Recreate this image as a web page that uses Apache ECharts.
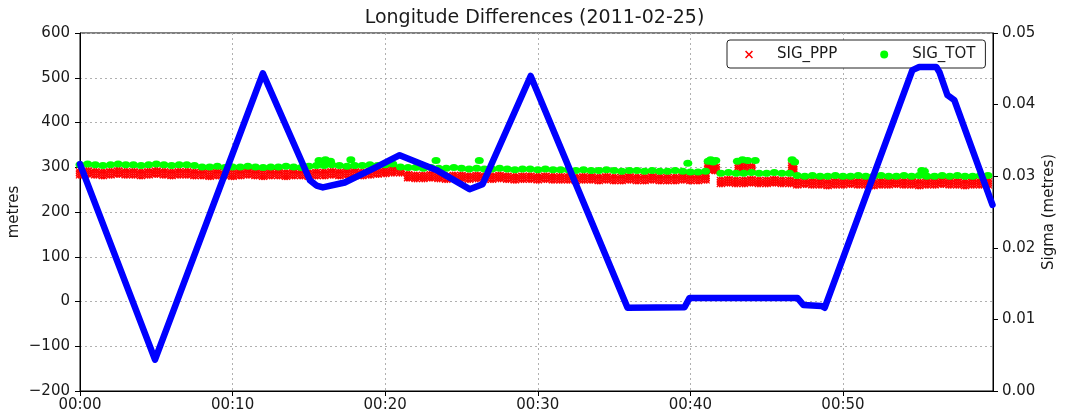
<!DOCTYPE html>
<html>
<head>
<meta charset="utf-8">
<script src="https://cdn.jsdelivr.net/npm/echarts@6/dist/echarts.min.js"></script>
<style>
html,body{margin:0;padding:0;background:#fff;}
#chart{width:1069px;height:416px;}
</style>
</head>
<body>
<div id="chart"></div>
<script>
// ---- DATA ----
const TITLE = 'Longitude Differences (2011-02-25)';
const X_TICK_STEP = 600;       // seconds between labelled ticks (10 min)
const X_MAX = 3590;            // seconds
// Longitude difference (metres) – polyline vertices
const diffTimes  = [0, 295, 719, 904, 930, 955, 1041, 1139, 1257, 1401, 1532, 1583, 1772, 2153, 2377, 2397, 2821, 2845, 2915, 2928, 3273, 3300, 3367, 3379, 3411, 3438, 3588];
const diffValues = [307, -130, 510, 271, 259, 255, 266, 293, 327, 294, 251, 262, 504, -14, -13, 8, 8, -8, -10, -14, 517, 524, 524, 513, 461, 450, 216];

// Sigma samples every 30 s
const SIGMA_STEP = 30;
const sigPPP = [
 0.0304,0.0305,0.0304,0.0303,0.0304,0.0305,0.0304,0.0304,0.0303,0.0304,0.0305,0.0304,0.0303,0.0304,0.0304,0.0303,
 0.0303,0.0302,0.0303,0.0303,0.0302,0.0303,0.0304,0.0303,0.0302,0.0303,0.0303,0.0302,0.0303,0.0303,0.0302,0.0303,
 0.0303,0.0304,0.0303,0.0304,0.0304,0.0303,0.0304,0.0305,0.0306,0.0307,
 0.0307,0.0300,0.0299,0.0299,0.0300,0.0299,0.0298,0.0299,0.0299,0.0298,0.0299,0.0298,0.0298,0.0299,0.0298,0.0297,0.0298,0.0298,0.0297,0.0298,0.0297,0.0297,
 0.0297,0.0296,0.0297,0.0297,0.0296,0.0297,0.0296,0.0296,0.0297,0.0296,0.0296,0.0297,0.0296,0.0296,0.0296,0.0297,0.0296,
 0.0296,0.0297,0.0311,
 0.0292,0.0293,0.0292,0.0292,0.0293,0.0292,0.0292,0.0293,0.0292,0.0292,
 0.0290,0.0291,0.0290,0.0290,0.0289,0.0290,0.0290,0.0291,0.0290,0.0290,0.0289,0.0290,0.0290,0.0291,0.0290,0.0290,0.0289,0.0290,0.0290,0.0291,0.0290,0.0290,0.0289,0.0290,0.0290,0.0290
];
const sigTOT = [
 0.0316,0.0317,0.0316,0.0315,0.0316,0.0317,0.0316,0.0316,0.0315,0.0316,0.0317,0.0316,0.0315,0.0316,0.0316,0.0315,
 0.0313,0.0313,0.0314,0.0312,0.0313,0.0313,0.0314,0.0313,0.0312,0.0313,0.0313,0.0314,0.0313,0.0312,0.0314,0.0315,
 0.0315,0.0316,0.0315,0.0314,0.0315,0.0315,0.0316,0.0315,0.0316,0.0317,
 0.0313,0.0312,0.0312,0.0311,0.0312,0.0311,0.0311,0.0312,0.0311,0.0310,0.0311,0.0310,0.0310,0.0311,0.0310,0.0309,0.0310,0.0310,0.0309,0.0310,0.0309,0.0309,
 0.0309,0.0308,0.0309,0.0308,0.0308,0.0309,0.0308,0.0307,0.0308,0.0308,0.0307,0.0308,0.0307,0.0307,0.0308,0.0307,0.0306,
 0.0306,0.0307,0.0320,
 0.0304,0.0305,0.0304,0.0304,0.0305,0.0304,0.0304,0.0305,0.0304,0.0304,
 0.0301,0.0300,0.0301,0.0300,0.0300,0.0301,0.0300,0.0300,0.0301,0.0300,0.0300,0.0301,0.0300,0.0300,0.0301,0.0300,0.0301,0.0300,0.0300,0.0301,0.0300,0.0301,0.0300,0.0300,0.0301,0.0301
];
// Isolated outlier points
const pppSpikeTimes  = [2470, 2480, 2500, 2590, 2610, 2640, 2800, 2805];
const pppSpikeValues = [0.0311, 0.0313, 0.0310, 0.0312, 0.0313, 0.0311, 0.0312, 0.0310];
const totSpikeTimes  = [940, 965, 985, 1065, 1400, 1570, 2390, 2470, 2480, 2500, 2585, 2605, 2625, 2655, 2800, 2810, 3310, 3320];
const totSpikeValues = [0.0322, 0.0323, 0.0321, 0.0323, 0.0322, 0.0322, 0.0318, 0.0321, 0.0323, 0.0322, 0.0321, 0.0323, 0.0322, 0.0322, 0.0323, 0.0320, 0.0308, 0.0307];

// ---- BUILD ----
function pairs(ts, vs){ return ts.map((t,i)=>[t, vs[i]]); }
function sampled(vs){ return vs.map((v,i)=>[i*SIGMA_STEP, v]); }
const diffData = pairs(diffTimes, diffValues);
const pppData = sampled(sigPPP).concat(pairs(pppSpikeTimes, pppSpikeValues));
const totData = sampled(sigTOT).concat(pairs(totSpikeTimes, totSpikeValues));

const FONT = 'DejaVu Sans';
const TXT = '#1a1a1a';
// single "x" marker shape (polygon), and a small cluster of them for dense sampling
function xPoly(cx, cy, r, w){
  const p = [[-r,-r+w],[-r+w,-r],[0,-w],[r-w,-r],[r,-r+w],[w,0],[r,r-w],[r-w,r],[0,w],[-r+w,r],[-r,r-w],[-w,0]];
  return 'M' + p.map(q => (cx+q[0]).toFixed(2)+','+(cy+q[1]).toFixed(2)).join(' L') + ' Z';
}
const X_ICON = 'path://' + xPoly(5,5,5,1.4);
const CLUSTER_CENTRES = [[2.5,2.5],[5,2.5],[7.5,2.5],[2.5,5],[5,5],[7.5,5],[2.5,7.5],[5,7.5],[7.5,7.5],[2.5,10],[5,10],[7.5,10]];
const X_CLUSTER = 'path://' + CLUSTER_CENTRES.map(c => xPoly(c[0], c[1], 2.5, 1.0)).join(' ');
function hhmm(sec){
  const m = Math.round(sec/60);
  const h = Math.floor(m/60), mm = m%60;
  return String(h).padStart(2,'0') + ':' + String(mm).padStart(2,'0');
}
function minus(v){ return String(v).replace('-', '\u2212'); }

const chart = echarts.init(document.getElementById('chart'), null, {renderer:'canvas'});
chart.setOption({
  animation: false,
  backgroundColor: '#fff',
  title: {
    text: TITLE, left: 'center', top: 4,
    textStyle: {fontFamily: FONT, fontSize: 19, fontWeight: 'normal', color: TXT}
  },
  grid: {left: 80, right: 76, top: 33, bottom: 25, show: true, borderColor: '#000', borderWidth: 1,
         backgroundColor: 'transparent', containLabel: false, outerBoundsMode: 'none'},
  legend: {
    left: 727, top: 40,
    padding: [7, 10, 6, 18],
    itemGap: 43,
    itemWidth: 16, itemHeight: 8,
    borderColor: '#222', borderWidth: 1, borderRadius: 3, backgroundColor: '#fff',
    textStyle: {fontFamily: FONT, fontSize: 15, color: TXT, rich: {s: {width: 15}}},
    formatter: name => '{s|}' + name,
    data: [{name: 'SIG_PPP', icon: X_ICON}, {name: 'SIG_TOT', icon: 'circle'}]
  },
  xAxis: {
    type: 'value', min: 0, max: X_MAX, interval: X_TICK_STEP,
    axisLine: {show: true, onZero: false, lineStyle: {color: '#000', width: 1}},
    axisTick: {show: true, length: 5, lineStyle: {color: '#000'}},
    axisLabel: {fontFamily: FONT, fontSize: 15, color: TXT, margin: 7, showMaxLabel: false, formatter: v => hhmm(v)},
    splitLine: {show: true, lineStyle: {color: '#b0b0b0', type: [2, 3], width: 1}}
  },
  yAxis: [
    {
      type: 'value', min: -200, max: 600, interval: 100, position: 'left',
      name: 'metres', nameLocation: 'middle', nameGap: 58, nameMoveOverlap: false,
      nameTextStyle: {fontFamily: FONT, fontSize: 15, color: TXT},
      axisLine: {show: true, onZero: false, lineStyle: {color: '#000', width: 1}},
      axisTick: {show: true, length: 5, lineStyle: {color: '#000'}},
      axisLabel: {fontFamily: FONT, fontSize: 15, color: TXT, margin: 10, formatter: v => minus(v)},
      splitLine: {show: true, lineStyle: {color: '#b0b0b0', type: [2, 3], width: 1}}
    },
    {
      type: 'value', min: 0, max: 0.05, interval: 0.01, position: 'right',
      name: 'Sigma (metres)', nameLocation: 'middle', nameGap: 49, nameMoveOverlap: false,
      nameTextStyle: {fontFamily: FONT, fontSize: 15, color: TXT},
      axisLine: {show: true, onZero: false, lineStyle: {color: '#000', width: 1}},
      axisTick: {show: true, length: 5, lineStyle: {color: '#000'}},
      axisLabel: {fontFamily: FONT, fontSize: 15, color: TXT, margin: 9, formatter: v => v.toFixed(2)},
      splitLine: {show: false}
    }
  ],
  series: [
    {
      name: 'SIG_PPP', type: 'scatter', yAxisIndex: 1, data: pppData,
      symbol: X_CLUSTER, symbolSize: [9, 11], itemStyle: {color: '#ff0000', opacity: 1}, z: 2
    },
    {
      name: 'SIG_TOT', type: 'scatter', yAxisIndex: 1, data: totData,
      symbol: 'circle', symbolSize: [9, 7], itemStyle: {color: '#00ff00', opacity: 1}, z: 2
    },
    {
      name: 'diff', type: 'line', yAxisIndex: 0, data: diffData,
      showSymbol: false, symbol: 'none',
      lineStyle: {color: '#0000ff', width: 6.5, cap: 'round', join: 'round'}, z: 5
    }
  ]
});
</script>
</body>
</html>
